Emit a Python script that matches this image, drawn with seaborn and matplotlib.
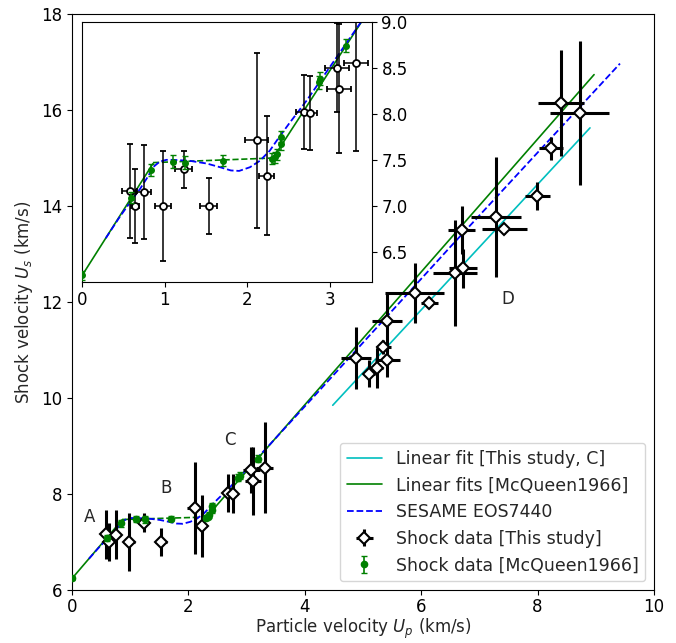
import numpy as np
import pandas as pd
import seaborn as sns
import matplotlib
matplotlib.use("Agg")
import matplotlib.pyplot as plt

# shock data, this study (Up, Us and their errors, km/s)
up_this = [0.58, 0.64, 0.75, 0.98, 1.23, 1.53, 2.11, 2.23, 2.68, 2.76, 3.08, 3.11, 3.31,
           4.88, 5.11, 5.235, 5.35, 5.42, 5.41, 5.89, 6.14, 6.58, 6.72, 6.695, 7.285, 7.43,
           7.995, 8.23, 8.40, 8.72]
us_this = [7.16, 7.00, 7.15, 7.00, 7.40, 7.00, 7.71, 7.33, 8.02, 8.01, 8.50, 8.27, 8.55,
           10.84, 10.51, 10.62, 11.06, 10.79, 11.60, 12.19, 11.99, 12.61, 12.70, 13.50, 13.78, 13.52,
           14.21, 15.21, 16.15, 15.93]
up_this_err = [0.09, 0.05, 0.09, 0.10, 0.10, 0.10, 0.14, 0.09, 0.09, 0.085, 0.145, 0.145, 0.14,
               0.25, 0.10, 0.10, 0.13, 0.22, 0.26, 0.51, 0.15, 0.37, 0.24, 0.23, 0.43, 0.39,
               0.22, 0.20, 0.39, 0.51]
us_this_err = [0.51, 0.40, 0.51, 0.60, 0.20, 0.30, 0.95, 0.65, 0.40, 0.40, 0.48, 0.70, 0.95,
               0.65, 0.28, 0.42, 0.15, 0.35, 0.59, 0.63, 0.12, 1.10, 0.40, 0.50, 1.25, 0.10,
               0.30, 0.24, 1.10, 1.50]

# shock data, McQueen 1966
up_mcq = [0.0, 0.60, 0.84, 1.10, 1.25, 1.70, 2.30, 2.33, 2.36, 2.40, 2.41, 2.86, 2.88, 3.19]
us_mcq = [6.25, 7.09, 7.39, 7.48, 7.47, 7.49, 7.51, 7.53, 7.56, 7.67, 7.75, 8.34, 8.38, 8.74]
us_mcq_err = [0.05, 0.06, 0.07, 0.07, 0.07, 0.06, 0.06, 0.06, 0.06, 0.06, 0.06, 0.07, 0.07, 0.07]

# linear fit, this study (region C)
fit_c_up = [4.48, 8.90]
fit_c_us = [9.85, 15.63]

# linear fits McQueen1966 (solid segments, dashed mixed-phase segment)
fit_mcq1_up = [0.0, 0.86]
fit_mcq1_us = [6.24, 7.46]
fit_mcq2_up = [0.86, 2.31]
fit_mcq2_us = [7.47, 7.52]
fit_mcq3_up = [2.31, 8.97]
fit_mcq3_us = [7.52, 16.74]

# SESAME EOS 7440 Hugoniot
sesame_up = [0.29, 0.45, 0.60, 0.70, 0.80, 0.86, 0.94, 1.02, 1.10, 1.30, 1.51, 1.67, 1.80,
             1.90, 2.03, 2.15, 2.27, 2.37, 2.50, 2.72, 3.12, 3.39, 4.26, 6.50, 9.415]
sesame_us = [6.65, 6.87, 7.06, 7.18, 7.32, 7.42, 7.48, 7.50, 7.50, 7.49, 7.46, 7.42, 7.385,
             7.38, 7.42, 7.49, 7.60, 7.73, 7.89, 8.15, 8.67, 9.02, 10.17, 13.15, 16.97]

region_labels = ["A", "B", "C", "D"]
region_x = [0.31, 1.62, 2.71, 7.49]
region_y = [7.52, 8.13, 9.13, 12.06]

sns.set_style("ticks", {"axes.edgecolor": "black", "xtick.color": "black", "ytick.color": "black"})
plt.rcParams["font.family"] = ["DejaVu Sans"]
plt.rcParams["font.size"] = 12
plt.rcParams["mathtext.fontset"] = "dejavusans"

fig = plt.figure(figsize=(6.76, 6.43), dpi=100)
ax = fig.add_axes([0.1065, 0.0824, 0.861, 0.8956])


def draw_lines(a, labels=True):
    sns.lineplot(x=fit_c_up, y=fit_c_us, color="c", lw=1.2, ax=a,
                 label="Linear fit [This study, C]" if labels else None)
    sns.lineplot(x=fit_mcq1_up, y=fit_mcq1_us, color="g", lw=1.2, ax=a,
                 label="Linear fits [McQueen1966]" if labels else None)
    sns.lineplot(x=fit_mcq2_up, y=fit_mcq2_us, color="g", lw=1.2, ax=a, linestyle="--")
    sns.lineplot(x=fit_mcq3_up, y=fit_mcq3_us, color="g", lw=1.2, ax=a)
    sns.lineplot(x=sesame_up, y=sesame_us, color="b", lw=1.3, ax=a, linestyle="--",
                 sort=False, label="SESAME EOS7440" if labels else None)


draw_lines(ax)
ax.errorbar(up_this, us_this, xerr=up_this_err, yerr=us_this_err, fmt="D", ms=6,
            mfc="white", mec="black", mew=1.5, ecolor="black", elinewidth=2.2,
            capsize=0, zorder=5, label="Shock data [This study]")
ax.errorbar(up_mcq, us_mcq, yerr=us_mcq_err, fmt="o", ms=4.5, color="g",
            elinewidth=1.2, capsize=2, zorder=6, label="Shock data [McQueen1966]")

for lab, lx, ly in zip(region_labels, region_x, region_y):
    ax.text(lx, ly, lab, ha="center", va="center", fontsize=12)

ax.set_xlim(0, 10)
ax.set_ylim(6, 18)
ax.set_xticks([0, 2, 4, 6, 8, 10])
ax.set_yticks([6, 8, 10, 12, 14, 16, 18])
ax.tick_params(axis="x", pad=2)
ax.set_xlabel("Particle velocity $U_p$ (km/s)", labelpad=1)
ax.set_ylabel("Shock velocity $U_s$ (km/s)")
leg = ax.legend(loc="lower right", frameon=True, fontsize=12.5, framealpha=0.8,
                edgecolor="0.8", fancybox=True)

# inset zoom on the low-pressure region
axi = fig.add_axes([0.1209, 0.5621, 0.4290, 0.4044])
draw_lines(axi, labels=False)
axi.errorbar(up_this, us_this, xerr=up_this_err, yerr=us_this_err, fmt="o", ms=5,
             mfc="white", mec="black", mew=1.3, ecolor="black", elinewidth=1.1,
             capsize=2, capthick=1.1, zorder=5)
axi.errorbar(up_mcq, us_mcq, yerr=us_mcq_err, fmt="o", ms=4, color="g",
             elinewidth=1.1, capsize=2, zorder=6)
axi.set_xlim(0, 3.5)
axi.set_ylim(6.18, 9.0)
axi.set_xticks([0, 1, 2, 3])
axi.set_yticks([6.5, 7.0, 7.5, 8.0, 8.5, 9.0])
axi.yaxis.tick_right()
axi.set_xlabel("")
axi.set_ylabel("")
if axi.get_legend() is not None:
    axi.get_legend().remove()

fig.savefig("out.png", dpi=100)
